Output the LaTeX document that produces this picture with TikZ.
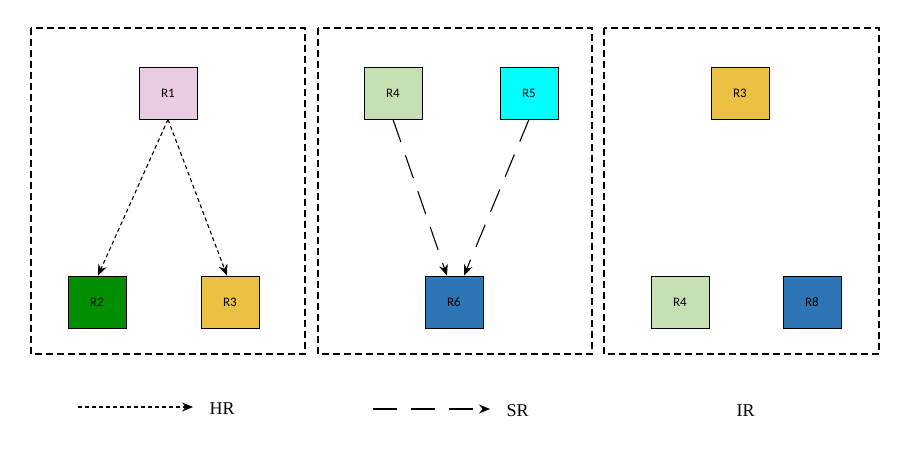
\documentclass[tikz,border=0pt]{standalone}
\usepackage{fontspec}
\setmainfont{Liberation Serif}
\newfontfamily\nodefont{Carlito}
\usetikzlibrary{arrows.meta}
\definecolor{cpink}{HTML}{EACCE2}
\definecolor{cgreen}{HTML}{008F00}
\definecolor{cyel}{HTML}{EBC143}
\definecolor{clgreen}{HTML}{C6E0B4}
\definecolor{ccyan}{HTML}{00FFFF}
\definecolor{cblue}{HTML}{2E75B6}
\tikzset{
  box/.style={draw, line width=0.8pt, minimum width=58pt, minimum height=52pt, inner sep=0pt, font=\nodefont\fontsize{13}{15}\selectfont},
  panel/.style={draw, line width=1.2pt, dash pattern=on 7pt off 4pt},
  hr/.style={line width=1.1pt, dash pattern=on 4pt off 3pt, -{Stealth[length=11pt,width=9pt]}},
  sr/.style={line width=1.1pt, dash pattern=on 24pt off 14pt, -{Stealth[length=11pt,width=9pt]}},
  lab/.style={font=\fontsize{18}{20}\selectfont, anchor=west}
}
\begin{document}
\begin{tikzpicture}[x=1pt,y=-1pt]
\useasboundingbox (0,0) rectangle (910,449);
\draw[panel] (31,28) rectangle (305,354);
\draw[panel] (318,28) rectangle (592,354);
\draw[panel] (604,28) rectangle (879,354);

\node[box, fill=cpink] (r1) at (168,93) {R1};
\node[box, fill=cgreen] (r2) at (97,302) {R2};
\node[box, fill=cyel] (r3) at (230,302) {R3};

\node[box, fill=clgreen] (r4) at (393,93) {R4};
\node[box, fill=ccyan] (r5) at (529,93) {R5};
\node[box, fill=cblue] (r6) at (454,302) {R6};

\node[box, fill=cyel] (r3b) at (740,93) {R3};
\node[box, fill=clgreen] (r4b) at (680,302) {R4};
\node[box, fill=cblue] (r8) at (812,302) {R8};

\draw[hr] (r1.south) -- ([xshift=1pt]r2.north);
\draw[hr] (r1.south) -- ([xshift=-3pt]r3.north);
\draw[sr] (r4.south) -- ([xshift=-7pt]r6.north);
\draw[sr] (r5.south) -- ([xshift=10pt]r6.north);

\coordinate (h1) at (78,407);
\coordinate (h2) at (193,407);
\coordinate (s1) at (373,409);
\coordinate (s2) at (490,409);
\draw[hr] (h1) -- (h2);
\node[lab] (hrl) at (206,409) {HR};
\draw[sr] (s1) -- (s2);
\node[lab] (srl) at (503,411) {SR};
\node[lab] (irl) at (733,411) {IR};
\end{tikzpicture}
\end{document}
